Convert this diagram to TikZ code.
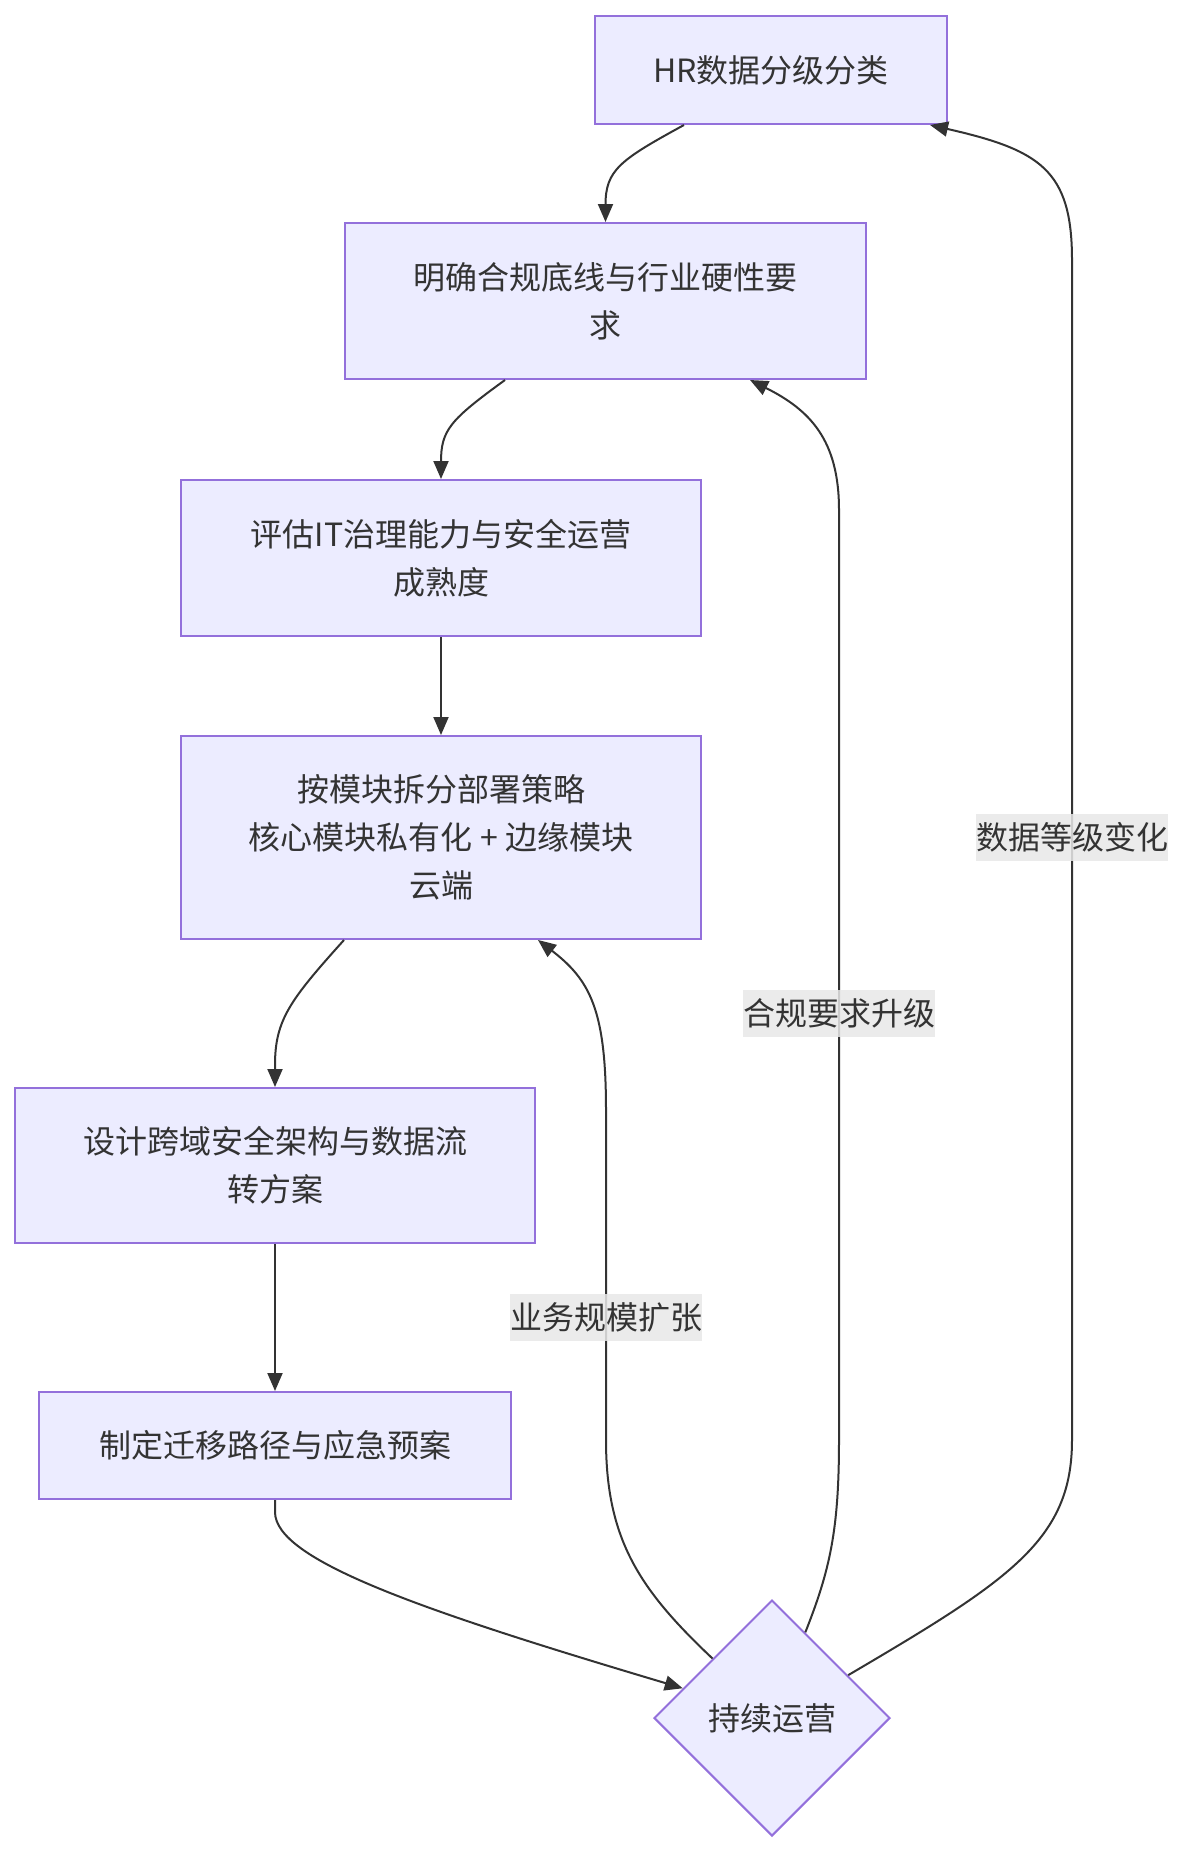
\documentclass[tikz,border=0pt]{standalone}
\usepackage{fontspec}
\setmainfont{Noto Sans CJK SC}
\usetikzlibrary{shapes.geometric,arrows.meta,calc}
\definecolor{nfill}{HTML}{ECECFF}
\definecolor{nline}{HTML}{9370DB}
\definecolor{ink}{HTML}{333333}
\definecolor{lblbg}{HTML}{E8E8E8}
\begin{document}
\begin{tikzpicture}[x=1pt,y=-1pt,
  box/.style={draw=nline,fill=nfill,line width=2pt,text=ink,align=center,
    inner sep=0pt,font=\fontsize{32pt}{48pt}\selectfont},
  dia/.style={diamond,draw=nline,fill=nfill,line width=2pt,text=ink,
    inner sep=0pt,minimum width=236pt,minimum height=236pt,
    font=\fontsize{32pt}{48pt}\selectfont},
  lbl/.style={fill=lblbg,fill opacity=0.85,text opacity=1,text=ink,inner xsep=0pt,
    inner ysep=0pt,minimum height=47pt,font=\fontsize{32pt}{40pt}\selectfont},
  edge/.style={draw=ink,line width=2pt,-{Triangle[length=18pt,width=15pt]}}]
\useasboundingbox (0,0) rectangle (1184,1852);

\node[box,minimum width=352pt,minimum height=108pt] (n1) at (771,70) {HR数据分级分类};
\node[box,minimum width=521pt,minimum height=156pt] (n2) at (605.5,301) {明确合规底线与行业硬性要\\求};
\node[box,minimum width=520pt,minimum height=156pt] (n3) at (441,558) {评估IT治理能力与安全运营\\成熟度};
\node[box,minimum width=520pt,minimum height=203pt] (n4) at (441,837.5) {按模块拆分部署策略\\核心模块私有化 + 边缘模块\\云端};
\node[box,minimum width=520pt,minimum height=155pt] (n5) at (275,1165.5) {设计跨域安全架构与数据流\\转方案};
\node[box,minimum width=472pt,minimum height=107pt] (n6) at (275,1445.5) {制定迁移路径与应急预案};
\node[dia] (d) at (772,1718) {持续运营};

% main flow
\draw[edge] ([xshift=-87pt]n1.south) .. controls (620,160) and (605.5,170) .. (605.5,205) -- (n2.north);
\draw[edge] ([xshift=-100.5pt]n2.south) .. controls (450,420) and (441,430) .. (441,462) -- (n3.north);
\draw[edge] (n3.south) -- (n4.north);
\draw[edge] ([xshift=-97pt]n4.south) .. controls (290,1000) and (275,1020) .. (275,1065) -- (n5.north);
\draw[edge] (n5.south) -- (n6.north);
\draw[edge] (n6.south) -- (275,1512) .. controls (275,1560) and (420,1610) .. ($(d.west)!0.25!(d.north)$);

% feedback loops
\draw[edge] (d.north west) .. controls (640,1590) and (606,1540) .. (606,1440) -- (606,1110)
  .. controls (606,1010) and (590,980) .. ([xshift=97pt]n4.south);
\draw[edge] ($(d.north)!0.28!(d.east)$) .. controls (830,1570) and (839,1530) .. (839,1440) -- (839,510)
  .. controls (839,440) and (810,410) .. ([xshift=144.5pt]n2.south);
\draw[edge] ($(d.north)!0.64!(d.east)$) .. controls (1010,1580) and (1072,1540) .. (1072,1440) -- (1072,260)
  .. controls (1072,170) and (1040,150) .. ([xshift=159pt]n1.south);

\node[lbl] (l1) at (606,1317) {业务规模扩张};
\node[lbl] (l2) at (839,1013) {合规要求升级};
\node[lbl] (l3) at (1072,837) {数据等级变化};
\end{tikzpicture}
\end{document}
